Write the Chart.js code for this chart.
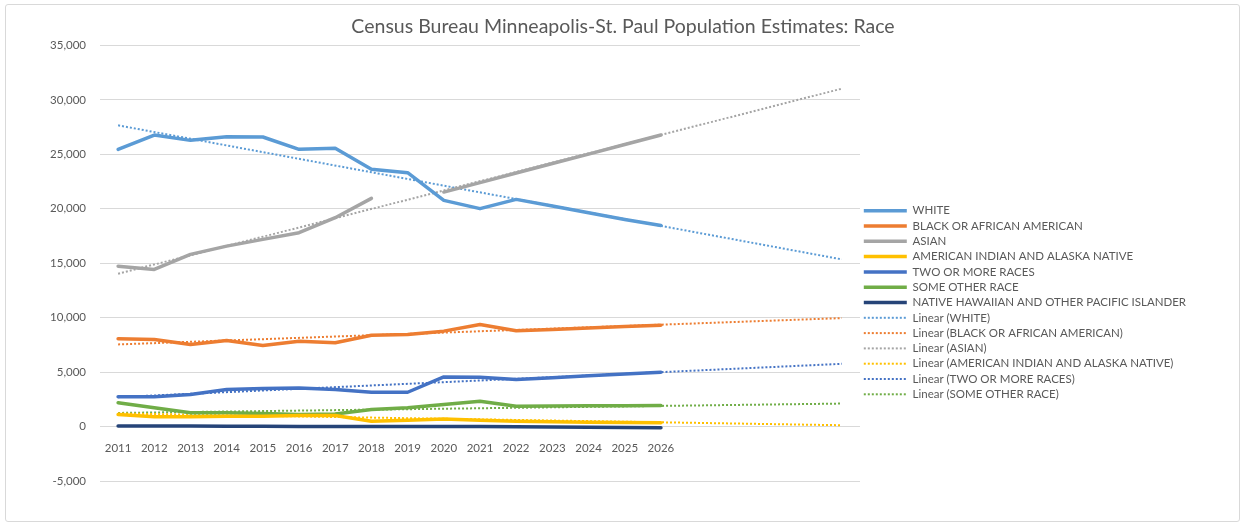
<!DOCTYPE html>
<html>
<head>
<meta charset="utf-8">
<script src="https://cdn.jsdelivr.net/npm/chart.js@4/dist/chart.umd.min.js"></script>
<style>
	html, body {
		margin: 0;
		padding: 0;
		background: #ffffff;
	}
	#wrap {
		position: relative;
		width: 1242px;
		height: 525px;
	}
	#frame {
		position: absolute;
		left: 5px;
		top: 4px;
		width: 1233px;
		height: 516px;
		border: 1px solid #d9d9d9;
		border-radius: 3px;
		pointer-events: none;
	}
</style>
</head>
<body>
<div id="wrap">
	<canvas id="chart"></canvas>
	<div id="frame"></div>
</div>
<script>
// categories (trendlines are forecast 5 years past 2026)
const years = ["2011", "2012", "2013", "2014", "2015", "2016", "2017", "2018", "2019", "2020",
	"2021", "2022", "2023", "2024", "2025", "2026", "2027", "2028", "2029", "2030", "2031"];
const tickLabels = ["2011", "2012", "2013", "2014", "2015", "2016", "2017", "2018", "2019", "2020",
	"2021", "2022", "2023", "2024", "2025", "2026", "", "", "", "", ""];

const white = [25450, 26770, 26280, 26620, 26590, 25460, 25550, 23620, 23310, 20770,
	20010, 20860, 20250, 19640, 19020, 18470];
const black = [8060, 8000, 7540, 7900, 7440, 7840, 7690, 8390, 8450, 8760,
	9370, 8790, 8920, 9050, 9180, 9310];
const asian = [14730, 14430, 15810, 16570, 17190, 17800, 19180, 20950, null, 21530,
	22400, 23280, 24150, 25020, 25900, 26770];
const amIndian = [1100, 890, 890, 950, 950, 1010, 1010, 490, 580, 700,
	580, 490, 450, 400, 370, 340];
const twoOrMore = [2730, 2730, 2940, 3400, 3490, 3550, 3400, 3150, 3150, 4560,
	4530, 4320, 4490, 4660, 4820, 4990];
const someOther = [2180, 1720, 1260, 1260, 1190, 1100, 1160, 1560, 1720, 2020,
	2330, 1870, 1880, 1900, 1910, 1930];
const hawaiian = [60, 50, 40, 30, 20, 10, 0, 0, 0, 0,
	0, -20, -40, -60, -80, -100];

// linear trendline ends: [2011 value, 2031 value]
const trendWhite = [27660, 15350];
const trendBlack = [7540, 9960];
const trendAsian = [14030, 31030];
const trendAmIndian = [1200, 120];
const trendTwoOrMore = [2700, 5760];
const trendSomeOther = [1250, 2110];

const seriesNames = ["WHITE", "BLACK OR AFRICAN AMERICAN", "ASIAN", "AMERICAN INDIAN AND ALASKA NATIVE",
	"TWO OR MORE RACES", "SOME OTHER RACE", "NATIVE HAWAIIAN AND OTHER PACIFIC ISLANDER"];
const seriesColors = ["#5b9bd5", "#ed7d31", "#a5a5a5", "#ffc000", "#4472c4", "#70ad47", "#264478"];
const seriesValues = [white, black, asian, amIndian, twoOrMore, someOther, hawaiian];
const trendValues = [trendWhite, trendBlack, trendAsian, trendAmIndian, trendTwoOrMore, trendSomeOther];

const textColor = "#595959";
const fontFamily = "Lato, 'Liberation Sans', sans-serif";

function buildDatasets() {
	const datasets = seriesValues.map((values, i) => {
		return {
			label: seriesNames[i],
			data: values,
			borderColor: seriesColors[i],
			backgroundColor: seriesColors[i],
			borderWidth: 3.5,
			borderJoinStyle: "round",
			borderCapStyle: "round",
			pointRadius: 0,
			tension: 0,
			spanGaps: false
		};
	});
	trendValues.forEach((ends, i) => {
		datasets.push({
			label: "Linear (" + seriesNames[i] + ")",
			data: [
				{ x: years[0], y: ends[0] },
				{ x: years[years.length - 1], y: ends[1] }
			],
			borderColor: seriesColors[i],
			backgroundColor: seriesColors[i],
			borderWidth: 2,
			borderDash: [2, 2],
			pointRadius: 0,
			tension: 0
		});
	});
	return datasets;
}

// keep the legend column at a fixed width so the plot ends where the original does
const legendWidth = {
	id: "legendWidth",
	beforeLayout(chart) {
		const legend = chart.legend;
		if (legend && !legend.fixedFit) {
			const fit = legend.fit.bind(legend);
			legend.fit = () => {
				fit();
				legend.width = 342;
			};
			legend.fixedFit = true;
		}
	}
};

// legend samples should show the dataset's own line width and dash
function legendLabels(chart) {
	const items = Chart.defaults.plugins.legend.labels.generateLabels(chart);
	items.forEach(item => {
		const dataset = chart.data.datasets[item.datasetIndex];
		item.lineWidth = dataset.borderWidth;
		item.lineDash = dataset.borderDash || [];
		item.strokeStyle = dataset.borderColor;
	});
	return items;
}

function drawChart() {
	const canvas = document.getElementById("chart");
	canvas.width = 1242;
	canvas.height = 525;
	const context = canvas.getContext("2d");
	const options = {
		type: "line",
		data: {
			labels: years,
			datasets: buildDatasets()
		},
		plugins: [legendWidth],
		options: {
			responsive: false,
			animation: false,
			layout: {
				padding: {
					left: 44,
					right: 40,
					top: 0,
					bottom: 44
				}
			},
			plugins: {
				title: {
					display: true,
					text: "Census Bureau Minneapolis-St. Paul Population Estimates: Race",
					color: textColor,
					font: {
						family: fontFamily,
						size: 19.5,
						weight: "normal"
					},
					padding: {
						top: 15,
						bottom: 7
					}
				},
				legend: {
					position: "right",
					align: "center",
					maxWidth: 400,
					title: {
						display: true,
						text: " ",
						font: {
							size: 10
						},
						padding: {
							top: 112,
							bottom: 0
						}
					},
					labels: {
						usePointStyle: true,
						pointStyle: "line",
						pointStyleWidth: 43,
						padding: 3.8,
						color: textColor,
						font: {
							family: fontFamily,
							size: 11.5
						},
						generateLabels: legendLabels
					}
				},
				tooltip: {
					enabled: false
				}
			},
			scales: {
				x: {
					type: "category",
					position: { y: 0 },
					offset: true,
					grid: {
						display: false
					},
					border: {
						display: false
					},
					ticks: {
						autoSkip: false,
						maxRotation: 0,
						padding: 7,
						color: textColor,
						font: {
							family: fontFamily,
							size: 11.5
						},
						callback: (value, index) => tickLabels[index]
					}
				},
				y: {
					min: -5000,
					max: 35000,
					afterFit: scale => {
						scale.width = 56;
					},
					grid: {
						color: "#d9d9d9",
						drawTicks: false
					},
					border: {
						display: false
					},
					ticks: {
						stepSize: 5000,
						padding: 14,
						color: textColor,
						font: {
							family: fontFamily,
							size: 11.5
						}
					}
				}
			}
		}
	};
	return new Chart(context, options);
}

document.addEventListener("DOMContentLoaded", _ => {
	drawChart();
});
</script>
</body>
</html>
